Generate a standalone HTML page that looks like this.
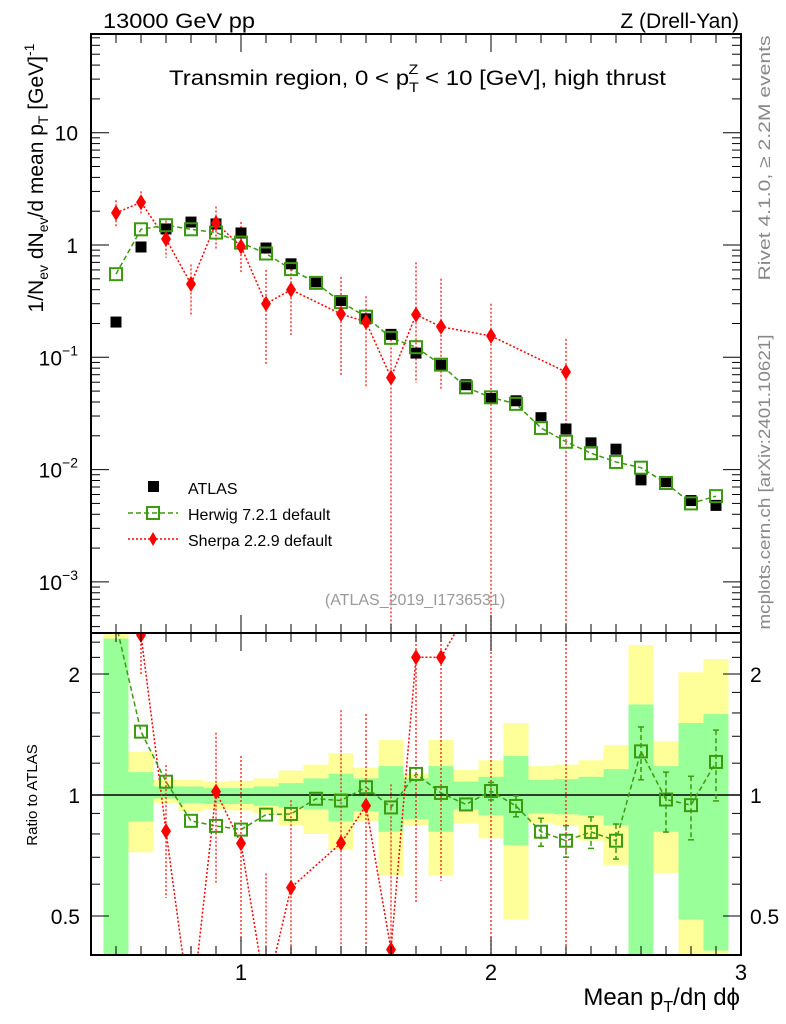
<!DOCTYPE html>
<html><head><meta charset="utf-8"><style>
html,body{margin:0;padding:0;background:#fff;overflow:hidden;}
svg{display:block;font-family:"Liberation Sans",sans-serif;}
</style></head><body>
<svg id="c" width="786" height="1024" viewBox="0 0 786 1024" xmlns="http://www.w3.org/2000/svg">
<defs>
<clipPath id="cpTop"><rect x="91" y="34" width="650" height="599"/></clipPath>
<clipPath id="cpRat"><rect x="91" y="633" width="650" height="322"/></clipPath>
</defs>
<g id="bands" clip-path="url(#cpRat)"></g>
<g id="plot"></g>
<text x="103" y="28" font-size="21" textLength="152" lengthAdjust="spacingAndGlyphs">13000 GeV pp</text>
<text x="739" y="28" font-size="21" text-anchor="end">Z (Drell-Yan)</text>
<text x="169" y="85" font-size="21" textLength="497" lengthAdjust="spacingAndGlyphs">Transmin region, 0 &lt; p<tspan font-size="14" dy="7">T</tspan><tspan font-size="14" dx="-9" dy="-18">Z</tspan><tspan dy="11"> &lt; 10 [GeV], high thrust</tspan></text>
<text transform="translate(43,178) rotate(-90)" font-size="21" text-anchor="middle">1/N<tspan font-size="14" dy="5">ev</tspan><tspan dy="-5"> dN</tspan><tspan font-size="14" dy="5">ev</tspan><tspan dy="-5">/d mean p</tspan><tspan font-size="14" dy="5">T</tspan><tspan dy="-5">  [GeV]</tspan><tspan font-size="14" dy="-9">-1</tspan></text>
<text transform="translate(37,795) rotate(-90)" font-size="15" text-anchor="middle">Ratio to ATLAS</text>
<text transform="translate(770,158) rotate(-90)" font-size="17" fill="#888" text-anchor="middle" textLength="245" lengthAdjust="spacingAndGlyphs">Rivet 4.1.0, ≥ 2.2M events</text>
<text transform="translate(770,482) rotate(-90)" font-size="17" fill="#888" text-anchor="middle" textLength="295" lengthAdjust="spacingAndGlyphs">mcplots.cern.ch [arXiv:2401.10621]</text>
<text x="415" y="605" font-size="16" fill="#999" text-anchor="middle">(ATLAS_2019_I1736531)</text>
<text x="740" y="1005" font-size="24" text-anchor="end">Mean p<tspan font-size="16" dy="7">T</tspan><tspan dy="-7">/dη dϕ</tspan></text>
<g>
<rect x="148" y="481" width="11" height="11" fill="#000"/>
<text x="188" y="494" font-size="16">ATLAS</text>
<line x1="128" y1="513" x2="178" y2="513" stroke="#3c9a0f" stroke-width="1.5" stroke-dasharray="5,3"/>
<rect x="147" y="507" width="12" height="12" fill="none" stroke="#3c9a0f" stroke-width="2"/>
<text x="188" y="520" font-size="16">Herwig 7.2.1 default</text>
<line x1="128" y1="539" x2="178" y2="539" stroke="#f00" stroke-width="1.5" stroke-dasharray="2,2"/>
<polygon points="153,532 157,539 153,546 149,539" fill="#f00"/>
<text x="188" y="546" font-size="16">Sherpa 2.2.9 default</text>
</g>
</svg>
<script>
const xs = [0.5,0.6,0.7,0.8,0.9,1.0,1.1,1.2,1.3,1.4,1.5,1.6,1.7,1.8,1.9,2.0,2.1,2.2,2.3,2.4,2.5,2.6,2.7,2.8,2.9];
const atlas = [0.206,0.96,1.39,1.6,1.54,1.28,0.94,0.68,0.47,0.32,0.22,0.16,0.109,0.085,0.057,0.043,0.041,0.029,0.023,0.0173,0.0152,0.0081,0.0078,0.0053,0.0048];
const herwig = [0.55,1.38,1.50,1.38,1.29,1.05,0.84,0.61,0.46,0.31,0.23,0.149,0.123,0.086,0.054,0.044,0.0385,0.0235,0.0177,0.014,0.0117,0.0104,0.0076,0.0050,0.0058];
const herwigRelErr = [0.01,0.01,0.01,0.01,0.01,0.01,0.01,0.01,0.01,0.01,0.02,0.02,0.03,0.03,0.04,0.05,0.06,0.08,0.09,0.09,0.1,0.15,0.17,0.18,0.2];
const sherpaX = [0.5,0.6,0.7,0.8,0.9,1.0,1.1,1.2,1.4,1.5,1.6,1.7,1.8,2.0,2.3];
const sherpa = [1.93,2.4,1.13,0.45,1.57,0.97,0.30,0.40,0.243,0.207,0.066,0.24,0.187,0.155,0.074];
const sherpaHi = [2.5,3.0,1.65,0.67,2.2,1.6,0.6,0.66,0.52,0.35,0.17,0.7,0.5,0.3,0.146];
const sherpaLo = [1.45,1.9,0.77,0.23,0.92,0.55,0.085,0.158,0.067,0.055,0.0,0.059,0.052,0.0,0.0];
const yelHi = [3.0,1.28,1.09,1.09,1.08,1.085,1.10,1.15,1.19,1.27,1.17,1.37,1.13,1.37,1.155,1.22,1.51,1.18,1.19,1.22,1.33,2.36,1.36,2.02,2.18];
const grnHi = [2.45,1.14,1.05,1.05,1.04,1.04,1.05,1.07,1.10,1.13,1.10,1.18,1.10,1.18,1.08,1.11,1.25,1.09,1.095,1.11,1.16,1.68,1.18,1.51,1.59];
const grnLo = [0.3,0.86,0.98,0.955,0.95,0.95,0.94,0.93,0.92,0.86,0.91,0.81,0.87,0.81,0.92,0.89,0.75,0.90,0.895,0.89,0.84,0.3,0.81,0.49,0.41];
const yelLo = [0.3,0.72,0.955,0.91,0.92,0.915,0.90,0.84,0.80,0.73,0.86,0.63,0.84,0.63,0.85,0.78,0.49,0.85,0.84,0.77,0.67,0.3,0.64,0.3,0.3];
const xTicks = [1,2,3];
const yTicks = [1e-3,1e-2,1e-1,1,10];
const yTickLabels = [["10","−3"],["10","−2"],["10","−1"],["1",""],["10",""]];
const rTicks = [0.5,1,2];
const rTickLabels = ["0.5","1","2"];

const NS="http://www.w3.org/2000/svg";
const L=91,R=741,T=34,M=633,B=955;
const X=v=>L+(v-0.4)*250;
const Y=v=>245-112.3*Math.log10(v);
const RY=v=>795-121*Math.log2(v);
const plot=document.getElementById('plot');
const bands=document.getElementById('bands');
function el(tag,a,p){const e=document.createElementNS(NS,tag);for(const k in a)e.setAttribute(k,a[k]);(p||plot).appendChild(e);return e;}
const GREEN='#3c9a0f';
function clampY(y,lo,hi){return Math.max(lo-5,Math.min(hi+5,y));}

xs.forEach((x,i)=>{
  let r=el('rect',{x:X(x-0.05),y:clampY(RY(yelHi[i]),M,B),width:X(x+0.05)-X(x-0.05),height:clampY(RY(yelLo[i]),M,B)-clampY(RY(yelHi[i]),M,B),fill:'#ffff99'},bands);
  
  
  let g=el('rect',{x:X(x-0.05),y:clampY(RY(grnHi[i]),M,B),width:X(x+0.05)-X(x-0.05),height:clampY(RY(grnLo[i]),M,B)-clampY(RY(grnHi[i]),M,B),fill:'#99ff99'},bands);
  
  
});

const topG=el('g',{'clip-path':'url(#cpTop)'});


const rat=el('g',{'clip-path':'url(#cpRat)'});



el('line',{x1:L,y1:RY(1),x2:R,y2:RY(1),stroke:'#000','stroke-width':1.5},rat);

function sq(g,x,y,filled,name){
  const s=filled?11:12;
  const r=el('rect',{x:x-s/2,y:y-s/2,width:s,height:s,fill:filled?'#000':'none',stroke:filled?'none':GREEN,'stroke-width':2},g);
  
  
}
function dia(g,x,y,name){
  const p=el('polygon',{points:`${x},${y-8} ${x+5},${y} ${x},${y+8} ${x-5},${y}`,fill:'#f00'},g);
  
  
}
function errY(f,v,lo,hi){return v<=0?hi+5:clampY(f(v),lo,hi);}

let sp=sherpaX.map((x,i)=>X(x)+','+Y(sherpa[i])).join(' ');
const sl=el('polyline',{points:sp,fill:'none',stroke:'#f00','stroke-width':1.5,'stroke-dasharray':'2,2'},topG);


sherpaX.forEach((x,i)=>{
  el('line',{x1:X(x),y1:errY(Y,sherpaHi[i],T,M),x2:X(x),y2:errY(Y,sherpaLo[i],T,M),stroke:'#f00','stroke-width':1.2,'stroke-dasharray':'2,2'},topG);
});
const hl=el('polyline',{points:xs.map((x,i)=>X(x)+','+Y(herwig[i])).join(' '),fill:'none',stroke:GREEN,'stroke-width':1.5,'stroke-dasharray':'5,3'},topG);


xs.forEach((x,i)=>sq(topG,X(x),Y(atlas[i]),true,'atlas-point'));
xs.forEach((x,i)=>sq(topG,X(x),Y(herwig[i]),false,'herwig-point'));
sherpaX.forEach((x,i)=>dia(topG,X(x),Y(sherpa[i]),'sherpa-point'));

function atlasAt(x){return atlas[xs.findIndex(v=>Math.abs(v-x)<1e-6)];}
const srl=el('polyline',{points:sherpaX.map((x,i)=>X(x)+','+RY(sherpa[i]/atlasAt(x))).join(' '),fill:'none',stroke:'#f00','stroke-width':1.5,'stroke-dasharray':'2,2'},rat);


sherpaX.forEach((x,i)=>{
  const a=atlasAt(x);
  el('line',{x1:X(x),y1:errY(RY,sherpaHi[i]/a,M,B),x2:X(x),y2:errY(RY,sherpaLo[i]/a,M,B),stroke:'#f00','stroke-width':1.2,'stroke-dasharray':'2,2'},rat);
});
const hrl=el('polyline',{points:xs.map((x,i)=>X(x)+','+RY(herwig[i]/atlas[i])).join(' '),fill:'none',stroke:GREEN,'stroke-width':1.5,'stroke-dasharray':'5,3'},rat);


xs.forEach((x,i)=>{
  const r=herwig[i]/atlas[i],e=herwigRelErr[i]*r;
  if(herwigRelErr[i]>0.04){
    el('line',{x1:X(x),y1:RY(r+e),x2:X(x),y2:RY(r-e),stroke:GREEN,'stroke-width':1.5,'stroke-dasharray':'5,3'},rat);
    el('line',{x1:X(x)-3,y1:RY(r+e),x2:X(x)+3,y2:RY(r+e),stroke:GREEN,'stroke-width':1.5},rat);
    el('line',{x1:X(x)-3,y1:RY(r-e),x2:X(x)+3,y2:RY(r-e),stroke:GREEN,'stroke-width':1.5},rat);
  }
  sq(rat,X(x),RY(r),false,'herwig-ratio-point');
});
sherpaX.forEach((x,i)=>dia(rat,X(x),RY(sherpa[i]/atlasAt(x)),'sherpa-ratio-point'));

const f1=el('rect',{x:L,y:T,width:R-L,height:M-T,fill:'none',stroke:'#000','stroke-width':2});


const f2=el('rect',{x:L,y:M,width:R-L,height:B-M,fill:'none',stroke:'#000','stroke-width':2});



for(let k=5;k<=29;k++){
  const v=k/10,x=X(v),major=(k%10===0),len=major?18:9;
  [[T,1],[M,-1],[M,1],[B,-1]].forEach(([y,d])=>el('line',{x1:x,y1:y,x2:x,y2:y+d*len,stroke:'#000','stroke-width':1}));
}
xTicks.forEach(v=>{
  const t=el('text',{x:X(v),y:980,'font-size':22,'text-anchor':'middle'});
  t.textContent=v;
  
  
});
for(let d=-4;d<=1;d++){
  for(let m=1;m<=9;m++){
    const v=m*Math.pow(10,d),y=Y(v);
    if(y<T||y>M)continue;
    const len=m===1?18:9;
    el('line',{x1:L,y1:y,x2:L+len,y2:y,stroke:'#000','stroke-width':1});
    el('line',{x1:R,y1:y,x2:R-len,y2:y,stroke:'#000','stroke-width':1});
  }
}
yTicks.forEach((v,i)=>{
  const t=el('text',{x:78,y:Y(v)+8,'font-size':21,'text-anchor':'end'});
  const [b,e]=yTickLabels[i];
  t.textContent=b;
  if(e){const s=el('tspan',{'font-size':14,dy:-10},t);s.textContent=e;}
  
  
});
[0.4,0.5,0.6,0.7,0.8,0.9,1,1.2,1.4,1.6,1.8,2,2.2,2.4].forEach(v=>{
  const y=RY(v);const major=rTicks.includes(v);const len=major?18:9;
  el('line',{x1:L,y1:y,x2:L+len,y2:y,stroke:'#000','stroke-width':1});
  el('line',{x1:R,y1:y,x2:R-len,y2:y,stroke:'#000','stroke-width':1});
});
rTicks.forEach((v,i)=>{
  const a=el('text',{x:80,y:RY(v)+8,'font-size':21,'text-anchor':'end'});
  a.textContent=rTickLabels[i];
  
  
  const b=el('text',{x:750,y:RY(v)+8,'font-size':21});
  b.textContent=rTickLabels[i];
  
  
});
</script>
</body></html>
